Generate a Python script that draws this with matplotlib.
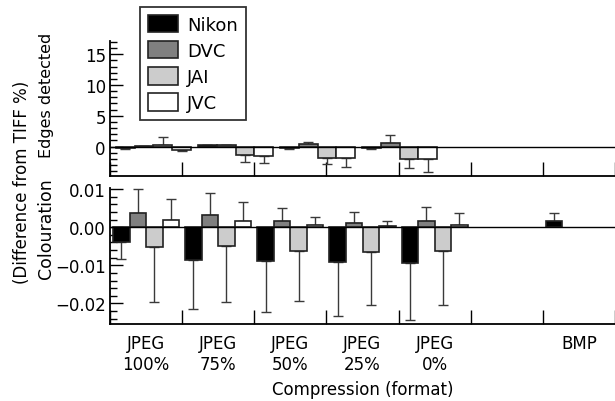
import matplotlib
matplotlib.use("Agg")
import matplotlib.pyplot as plt
import numpy as np
from matplotlib.patches import Patch

plt.rcParams['font.family'] = ['DejaVu Sans']

brands = ["Nikon", "DVC", "JAI", "JVC"]
colors = ["#000000", "#808080", "#cccccc", "#ffffff"]

# Top panel: Edges detected (difference from TIFF %), JPEG 100/75/50/25
edge_vals = {
    "Nikon": [-0.3, 0.25, -0.3, -0.3],
    "DVC":   [0.05, 0.25, 0.37, 0.65],
    "JAI":   [0.2, -1.4, -1.8, -2.0],
    "JVC":   [-0.6, -1.6, -1.8, -2.0],
}
edge_errs = {
    "Nikon": [0.07, 0.05, 0.1, 0.07],
    "DVC":   [0.0, 0.05, 0.38, 1.25],
    "JAI":   [1.37, 1.1, 1.1, 1.5],
    "JVC":   [0.2, 1.1, 1.6, 2.1],
}

# Bottom panel: Colouration
x_labels = ["JPEG\n100%", "JPEG\n75%", "JPEG\n50%", "JPEG\n25%", "JPEG\n0%", "", "BMP"]
col_vals = {
    "Nikon": [-0.0038, -0.0085, -0.0088, -0.0092, -0.0095, None, 0.0016],
    "DVC":   [0.0038, 0.0032, 0.0017, 0.0012, 0.0017, None, None],
    "JAI":   [-0.0052, -0.0050, -0.0063, -0.0066, -0.0063, None, None],
    "JVC":   [0.0020, 0.0016, 0.0005, 0.0002, 0.0005, None, None],
}
col_errs = {
    "Nikon": [0.0046, 0.0129, 0.0135, 0.0142, 0.0148, None, 0.0021],
    "DVC":   [0.0061, 0.0057, 0.0034, 0.0028, 0.0035, None, None],
    "JAI":   [0.0145, 0.0147, 0.0131, 0.0138, 0.0140, None, None],
    "JVC":   [0.0055, 0.0049, 0.0023, 0.0015, 0.0032, None, None],
}

W, H = 615, 402
fig = plt.figure(figsize=(W / 100, H / 100), dpi=100)

left_px, right_px = 110, 615
ax_top = fig.add_axes([left_px / W, 1 - 176.5 / H, (right_px - left_px) / W, (176.5 - 41.7) / H])
ax_bot = fig.add_axes([left_px / W, 1 - 325 / H, (right_px - left_px) / W, (325 - 189.3) / H])

px_per_unit = 73.0
xmax = -0.5 + (right_px - left_px) / px_per_unit
err_color = "#3a3a3a"
edge_color = "#222222"


def one_sided(vals, errs):
    lo, hi = [], []
    for v, e in zip(vals, errs):
        if v >= 0:
            lo.append(0.0); hi.append(e)
        else:
            lo.append(e); hi.append(0.0)
    return np.array([lo, hi])

# ---- top panel
top_group_px = 83.0
top_bar_px = 19.0
bw_top = top_bar_px / px_per_unit
for j, b in enumerate(brands):
    n = len(edge_vals[b])
    xs = -0.5 + (6 + np.arange(n) * top_group_px + (j + 0.5) * top_bar_px) / px_per_unit
    v = np.array(edge_vals[b])
    ax_top.bar(xs, v, width=bw_top, color=colors[j], edgecolor=edge_color, linewidth=1.2, zorder=3)
    ax_top.errorbar(xs, v, yerr=one_sided(v, edge_errs[b]), fmt="none", ecolor=err_color,
                    elinewidth=1.0, capsize=3.6, capthick=1.0, zorder=2)

# ---- bottom panel
bw_bot = 16.7 / px_per_unit
for j, b in enumerate(brands):
    xs, v, e = [], [], []
    for i, (val, er) in enumerate(zip(col_vals[b], col_errs[b])):
        if val is None:
            continue
        xs.append(i + (j - 1.5) * bw_bot)
        v.append(val)
        e.append(er)
    xs = np.array(xs); v = np.array(v)
    ax_bot.bar(xs, v, width=bw_bot, color=colors[j], edgecolor=edge_color, linewidth=1.2, zorder=3)
    ax_bot.errorbar(xs, v, yerr=one_sided(v, e), fmt="none", ecolor=err_color,
                    elinewidth=1.0, capsize=3.6, capthick=1.0, zorder=2)

for ax in (ax_top, ax_bot):
    ax.set_xlim(-0.5, xmax)
    ax.axhline(0, color="black", linewidth=1.0, zorder=4)
    for s in ("top", "right"):
        ax.spines[s].set_visible(False)
    for s in ("left", "bottom"):
        ax.spines[s].set_linewidth(1.3)
    ax.set_xticks(np.arange(-0.5, 7.0, 1.0))
    ax.tick_params(axis="x", which="major", direction="in", length=10, width=1.0, labelbottom=False)
    ax.tick_params(axis="y", which="major", direction="in", length=9.5, width=1.0, labelsize=12, pad=3)
    ax.tick_params(axis="y", which="minor", direction="in", length=5, width=1.0)

ax_top.set_ylim(-4.7, 17.2)
ax_top.set_yticks([0, 5, 10, 15])
ax_top.set_yticks(np.arange(-4, 18, 1), minor=True)

ax_bot.set_ylim(-0.0254, 0.0102)
ax_bot.set_yticks([-0.02, -0.01, 0.0, 0.01])
ax_bot.set_yticklabels(["\u22120.02", "\u22120.01", "0.00", "0.01"])
ax_bot.set_yticks(np.arange(-0.024, 0.0101, 0.002), minor=True)
ax_bot.set_xticks(np.arange(len(x_labels)), minor=True)
ax_bot.set_xticklabels(x_labels, minor=True, fontsize=12, linespacing=1.25)
ax_bot.tick_params(axis="x", which="minor", length=0, pad=7)
ax_bot.set_xlabel("Compression (format)", fontsize=12, labelpad=5)

fig.text(22 / W, 1 - 182 / H, "(Difference from TIFF %)", rotation=90, ha="center", va="center", fontsize=12)
fig.text(46 / W, 1 - 95 / H, "Edges detected", rotation=90, ha="center", va="center", fontsize=11.5)
fig.text(46 / W, 1 - 229 / H, "Colouration", rotation=90, ha="center", va="center", fontsize=12.5)

handles = [Patch(facecolor=c, edgecolor=edge_color, linewidth=1.2) for c in colors]
leg = fig.legend(handles, brands, loc="upper left", bbox_to_anchor=(140 / W, 1 - 8 / H),
                 frameon=True, fancybox=False, fontsize=13, handlelength=1.65, handleheight=1.1,
                 handletextpad=0.5, labelspacing=0.4, borderpad=0.45, borderaxespad=0)
leg.get_frame().set_edgecolor("black")
leg.get_frame().set_linewidth(1.3)

fig.savefig("out.png", dpi=100)
